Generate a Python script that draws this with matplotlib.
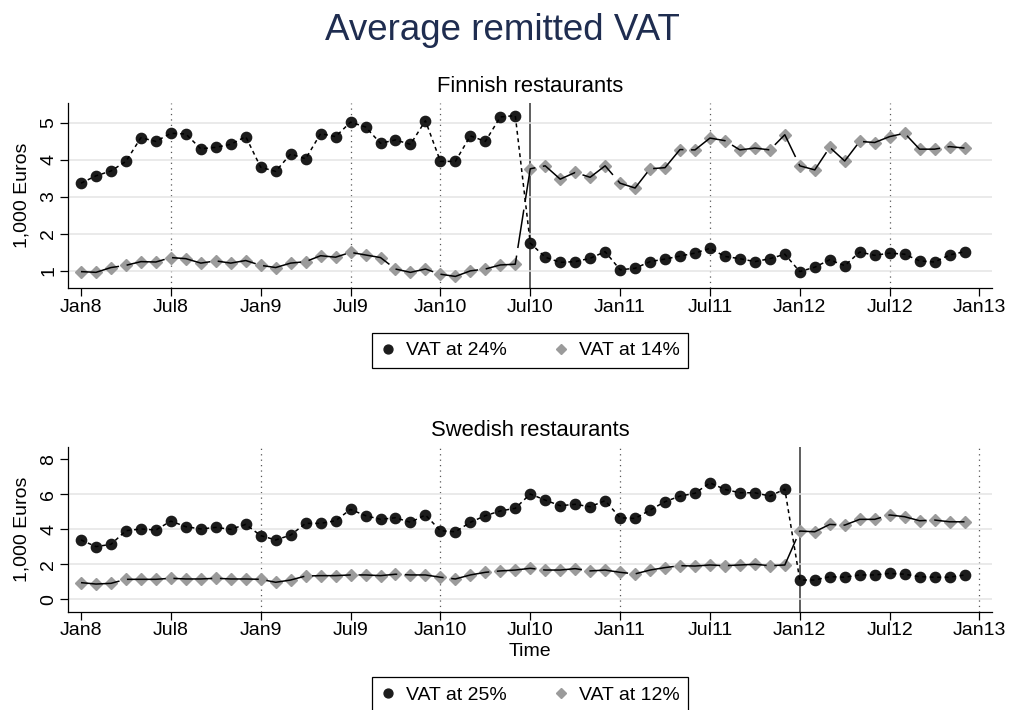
import matplotlib
matplotlib.use("Agg")
import matplotlib.pyplot as plt
from matplotlib.lines import Line2D

plt.rcParams['font.family'] = ['Liberation Sans', 'DejaVu Sans']
plt.rcParams['lines.scale_dashes'] = False

# month index 0 = Jan 2008
tick_months = [0, 6, 12, 18, 24, 30, 36, 42, 48, 54, 60]
tick_labels = ['Jan8', 'Jul8', 'Jan9', 'Jul9', 'Jan10', 'Jul10',
               'Jan11', 'Jul11', 'Jan12', 'Jul12', 'Jan13']

# Finnish restaurants, 1,000 Euros
fin_24 = [3.36, 3.56, 3.69, 3.95, 4.59, 4.49, 4.71, 4.69, 4.29, 4.33, 4.41, 4.62,
          3.79, 3.68, 4.15, 4.02, 4.70, 4.62, 5.01, 4.88, 4.44, 4.53, 4.41, 5.05,
          3.95, 3.95, 4.64, 4.49, 5.15, 5.19, 1.74, 1.36, 1.22, 1.24, 1.33, 1.51,
          1.02, 1.06, 1.24, 1.31, 1.39, 1.47, 1.60, 1.38, 1.32, 1.24, 1.32, 1.44,
          0.97, 1.09, 1.29, 1.13, 1.50, 1.41, 1.47, 1.44, 1.26, 1.23, 1.42, 1.51]
fin_14 = [0.97, 0.95, 1.08, 1.14, 1.24, 1.23, 1.35, 1.32, 1.20, 1.26, 1.20, 1.27,
          1.14, 1.08, 1.20, 1.24, 1.40, 1.36, 1.49, 1.42, 1.35, 1.04, 0.95, 1.04,
          0.90, 0.84, 0.99, 1.04, 1.15, 1.17, 3.75, 3.83, 3.47, 3.65, 3.52, 3.83,
          3.36, 3.23, 3.75, 3.78, 4.27, 4.26, 4.58, 4.51, 4.26, 4.31, 4.26, 4.67,
          3.83, 3.72, 4.33, 3.96, 4.49, 4.46, 4.62, 4.71, 4.28, 4.28, 4.35, 4.31]

# Swedish restaurants, 1,000 Euros
swe_25 = [3.39, 3.01, 3.14, 3.92, 4.02, 3.96, 4.47, 4.15, 4.02, 4.11, 4.00, 4.28,
          3.64, 3.39, 3.67, 4.34, 4.34, 4.49, 5.14, 4.78, 4.57, 4.66, 4.40, 4.82,
          3.92, 3.86, 4.40, 4.78, 5.05, 5.20, 6.02, 5.67, 5.35, 5.43, 5.29, 5.64,
          4.66, 4.62, 5.10, 5.58, 5.90, 6.06, 6.66, 6.28, 6.09, 6.09, 5.90, 6.30,
          1.10, 1.10, 1.29, 1.26, 1.39, 1.39, 1.48, 1.43, 1.29, 1.26, 1.26, 1.39]
swe_12 = [0.95, 0.87, 0.91, 1.14, 1.14, 1.14, 1.20, 1.16, 1.16, 1.20, 1.16, 1.16,
          1.14, 0.97, 1.10, 1.33, 1.35, 1.35, 1.39, 1.39, 1.35, 1.43, 1.39, 1.39,
          1.26, 1.16, 1.39, 1.54, 1.62, 1.67, 1.77, 1.67, 1.67, 1.75, 1.62, 1.67,
          1.54, 1.45, 1.67, 1.81, 1.92, 1.90, 1.96, 1.92, 1.96, 2.00, 1.92, 1.96,
          3.90, 3.86, 4.28, 4.24, 4.57, 4.57, 4.82, 4.72, 4.49, 4.53, 4.43, 4.43]

fin_dotted = [6, 18, 24, 42, 54]
fin_break = 30
swe_dotted = [12, 24, 36, 60]
swe_break = 48

months = list(range(len(fin_24)))

DARK = '#1c1c1c'
GRAY = '#9b9b9b'


def panel(ax, hi, lo, dotted, brk, ylim, yticks):
    ax.set_yticks(yticks)
    ax.grid(axis='y', color='#e4e4e4', lw=1.1, zorder=0)
    for m in dotted:
        ax.axvline(m, color='#555555', lw=0.9, ls=(0, (0.9, 3.0)), zorder=1)
    ax.axvline(brk, color='#333333', lw=1.1, zorder=1)
    ax.plot(months, hi, ls='none', marker='o', ms=7.4, mfc=DARK, mec=DARK, zorder=3)
    ax.plot(months, lo, ls='none', marker='D', ms=6.1, mfc=GRAY, mec=GRAY, zorder=3)
    ax.plot(months, hi, color='black', lw=1.1, ls=(0, (2.8, 2.6)), zorder=4)
    ax.plot(months, lo, color='black', lw=1.1, ls=(0, (28, 5.5)), zorder=4)

    ax.set_xlim(-0.85, 60.83)
    ax.set_ylim(*ylim)
    ax.set_xticks(tick_months)
    ax.set_xticklabels(tick_labels)
    for s in ['top', 'right']:
        ax.spines[s].set_visible(False)
    for s in ['left', 'bottom']:
        ax.spines[s].set_linewidth(0.9)
    ax.tick_params(length=5.8, width=0.9, labelsize=14, pad=2)
    plt.setp(ax.get_yticklabels(), rotation=90, va='center')
    ax.set_ylabel('1,000 Euros', fontsize=14, va='center')
    ax.yaxis.set_label_coords(-46.6 / 923.7, 0.5)


fig = plt.figure(figsize=(10.1, 7.1), dpi=100)
ax1 = fig.add_axes([0.0676, 0.594, 0.9145, 0.2605])
ax2 = fig.add_axes([0.0676, 0.1385, 0.9145, 0.2315])

panel(ax1, fin_24, fin_14, fin_dotted, fin_break, (0.52, 5.52), [1, 2, 3, 4, 5])
panel(ax2, swe_25, swe_12, swe_dotted, swe_break, (-0.71, 8.69), [0, 2, 4, 6, 8])
ax2.get_ygridlines()[-1].set_visible(False)

ax2.set_xlabel('Time', fontsize=14, va='center')
ax2.xaxis.set_label_coords(0.5, -40.0 / 164.4)

fig.text(0.497, 1 - 31 / 710, 'Average remitted VAT', fontsize=26.5,
         color='#1f2d50', ha='center', va='center')
fig.text(530 / 1010, 1 - 87 / 710, 'Finnish restaurants', fontsize=15.8,
         ha='center', va='center')
fig.text(530 / 1010, 1 - 431 / 710, 'Swedish restaurants', fontsize=15.8,
         ha='center', va='center')


def legend(labels, y):
    handles = [Line2D([], [], ls='none', marker='o', ms=6.4, mfc=DARK, mec=DARK),
               Line2D([], [], ls='none', marker='D', ms=5.2, mfc=GRAY, mec=GRAY)]
    leg = fig.legend(handles, labels, loc='center', bbox_to_anchor=(530 / 1010, y),
                     ncol=2, fontsize=14, frameon=True, fancybox=False,
                     edgecolor='black', framealpha=1, handlelength=0.8,
                     handletextpad=0.5, columnspacing=2.4, borderpad=0.45,
                     borderaxespad=0)
    leg.get_frame().set_linewidth(0.9)


legend(['VAT at 24%', 'VAT at 14%'], 1 - 350.5 / 710)
legend(['VAT at 25%', 'VAT at 12%'], 1 - 695 / 710)

fig.savefig('out.png', dpi=100)
